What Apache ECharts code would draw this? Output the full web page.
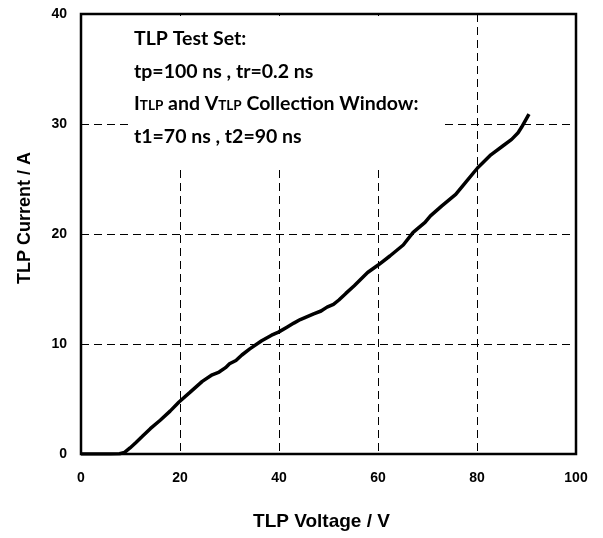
<!DOCTYPE html>
<html><head><meta charset="utf-8">
<script src="https://cdn.jsdelivr.net/npm/echarts@6/dist/echarts.min.js"></script>
<style>html,body{margin:0;padding:0;background:#fff}#c{width:603px;height:538px}</style>
</head><body><div id="c"></div>
<script>
const voltage = [0, 2, 4, 6, 7.8, 8.8, 9.9, 11.0, 12.3, 14.0, 16.0, 18.0, 19.8, 22.0, 24.5, 26.5, 27.9, 29.2, 30.0, 31.3, 32.5, 34.1, 36.5, 38.5, 39.9, 41.6, 43.0, 44.3, 47.0, 48.5, 49.7, 51.0, 52.1, 53.5, 55.2, 57.9, 60.1, 62.4, 65.1, 67.1, 69.5, 70.6, 72.9, 75.7, 77.7, 80.1, 82.8, 85.2, 87.0, 88.3, 89.0, 90.5];
const current = [0, 0, 0, 0, 0.02, 0.15, 0.55, 1.0, 1.56, 2.3, 3.07, 3.9, 4.73, 5.6, 6.6, 7.2, 7.45, 7.85, 8.2, 8.5, 9.0, 9.56, 10.3, 10.8, 11.08, 11.53, 11.9, 12.22, 12.74, 13.0, 13.35, 13.6, 14.0, 14.6, 15.3, 16.5, 17.2, 18.0, 19.0, 20.15, 21.05, 21.65, 22.56, 23.6, 24.7, 26.0, 27.2, 28.0, 28.6, 29.2, 29.7, 30.9];
const xTicks = [0, 20, 40, 60, 80, 100];
const yTicks = [0, 10, 20, 30, 40];
const noteLines = ['{n|TLP Test Set:}', '{n|tp=100 ns , tr=0.2 ns}', '{n|I}{s|TLP}{n| and V}{s|TLP}{n| Collection Window:}', '{n|t1=70 ns , t2=90 ns}'];

const chart = echarts.init(document.getElementById('c'));
const axisLabelStyle = {fontFamily: 'Liberation Sans', fontWeight: 'bold', fontSize: 14, color: '#000'};
const splitStyle = {show: true, lineStyle: {color: '#000', width: 1, type: [8, 5]}};
chart.setOption({
  animation: false,
  backgroundColor: '#fff',
  grid: {left: 81, right: 27, top: 14, bottom: 84, show: true, borderColor: '#000', borderWidth: 2.5, backgroundColor: 'transparent'},
  xAxis: {
    type: 'value', min: xTicks[0], max: xTicks[xTicks.length - 1], interval: 20,
    name: 'TLP Voltage / V', nameLocation: 'middle', nameGap: 58,
    nameTextStyle: {fontFamily: 'Liberation Sans', fontWeight: 'bold', fontSize: 19, color: '#000', padding: [0, 14, 0, 0]},
    axisLine: {show: false}, axisTick: {show: false},
    axisLabel: Object.assign({margin: 17}, axisLabelStyle),
    splitLine: splitStyle
  },
  yAxis: {
    type: 'value', min: yTicks[0], max: yTicks[yTicks.length - 1], interval: 10,
    name: 'TLP Current / A', nameLocation: 'middle', nameGap: 47,
    nameTextStyle: {fontFamily: 'Liberation Sans', fontWeight: 'bold', fontSize: 18, color: '#000', padding: [0, 0, 0, 32]},
    axisLine: {show: false}, axisTick: {show: false},
    axisLabel: Object.assign({margin: 14}, axisLabelStyle),
    splitLine: splitStyle
  },
  graphic: [
    {type: 'rect', z: 5, shape: {x: 133, y: 16, width: 310, height: 149}, style: {fill: '#fff'}},
    ...noteLines.map((t, i) => ({
      type: 'text', z: 6, x: 134, y: 25 + i * 32.5,
      style: {text: t, rich: {
        n: {fontFamily: 'Lato', fontWeight: 'bold', fontSize: 19.5, fill: '#000', lineHeight: 24, verticalAlign: 'bottom'},
        s: {fontFamily: 'Lato', fontWeight: 'bold', fontSize: 13.5, fill: '#000', lineHeight: 24, verticalAlign: 'bottom', padding: [0, 0, 1, 0]}
      }}
    }))
  ],
  series: [{
    type: 'line', data: voltage.map((v, i) => [v, current[i]]), showSymbol: false, smooth: false,
    lineStyle: {color: '#000', width: 3.5}, z: 10
  }]
});
</script></body></html>
